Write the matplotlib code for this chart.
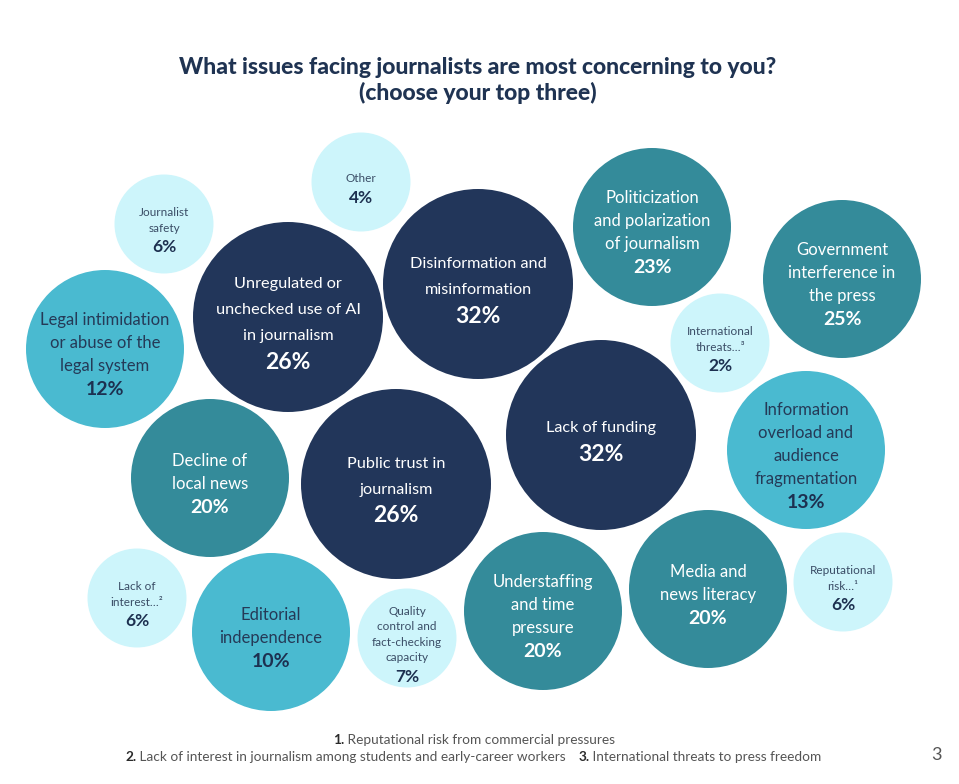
import matplotlib.pyplot as plt
from matplotlib.patches import Circle

plt.rcParams["font.family"] = ["Lato", "DejaVu Sans"]

# Survey answers (share of respondents, %)
labels = [
    "Journalist\nsafety",
    "Other",
    "Unregulated or\nunchecked use of AI\nin journalism",
    "Disinformation and\nmisinformation",
    "Politicization\nand polarization\nof journalism",
    "Government\ninterference in\nthe press",
    "Legal intimidation\nor abuse of the\nlegal system",
    "International\nthreats\u2026\u00b3",
    "Lack of funding",
    "Information\noverload and\naudience\nfragmentation",
    "Decline of\nlocal news",
    "Public trust in\njournalism",
    "Lack of\ninterest\u2026\u00b2",
    "Editorial\nindependence",
    "Quality\ncontrol and\nfact-checking\ncapacity",
    "Understaffing\nand time\npressure",
    "Media and\nnews literacy",
    "Reputational\nrisk\u2026\u00b9",
]
values = [6, 4, 26, 32, 23, 25, 12, 2, 32, 13, 20, 26, 6, 10, 7, 20, 20, 6]

# bubble layout (pixel centres on the page)
centre_x = [164, 361, 288, 478, 652, 842, 105, 720, 601, 806, 210, 396, 137, 271, 407, 543, 708, 843]
centre_y = [224, 182, 317, 284, 227, 279, 349, 343, 435, 450, 478, 484, 598, 632, 638, 611, 589, 582]

footnotes = [
    [("1.", "Reputational risk from commercial pressures")],
    [("2.", "Lack of interest in journalism among students and early-career workers"),
     ("3.", "International threats to press freedom")],
]

NAVY = "#22365a"
TEAL = "#348b9a"
LIGHT = "#4abad0"
PALE = "#cdf5fb"
DARK_TEXT = "#253a57"


def style_for(v):
    # radius, label size, pct size, line gap, pct gap, fill, label colour, pct colour
    if v >= 26:
        return 95, 11.7, 16.5, 26, 26, NAVY, "white", "white"
    if v >= 20:
        return 79, 12, 14, 23, 23.5, TEAL, "white", "white"
    if v >= 10:
        return 79, 12, 14, 23, 23.5, LIGHT, DARK_TEXT, "#1d3050"
    return 49.5, 8.5, 12.5, 15.5, 19, PALE, "#3a4d66", "#1d3050"


fig = plt.figure(figsize=(9.59, 7.84), dpi=100)
ax = fig.add_axes([0, 0, 1, 1])
ax.set_xlim(0, 959)
ax.set_ylim(784, 0)
ax.set_aspect("equal")
ax.axis("off")

for lab, v, cx, cy in zip(labels, values, centre_x, centre_y):
    r, lfs, pfs, gap, pgap, fill, lcol, pcol = style_for(v)
    ax.add_patch(Circle((cx, cy), r, facecolor=fill, edgecolor="none"))
    lines = lab.split("\n")
    span = (len(lines) - 1) * gap + pgap
    y0 = cy + 6 - span / 2
    for i, line in enumerate(lines):
        ax.text(cx, y0 + i * gap, line, ha="center", va="center", fontsize=lfs,
                color=lcol, fontweight="normal")
    ax.text(cx, y0 + (len(lines) - 1) * gap + pgap, f"{v}%", ha="center", va="center",
            fontsize=pfs, color=pcol, fontweight="bold")

ax.text(478, 67, "What issues facing journalists are most concerning to you?",
        ha="center", va="center", fontsize=16.5, fontweight="black", color="#1f3352")
ax.text(478, 93, "(choose your top three)",
        ha="center", va="center", fontsize=16.5, fontweight="black", color="#1f3352")

# footnotes, built piece by piece so the numbers can be bold
starts = [(333, 740), (125, 757)]
for (sx, sy), row in zip(starts, footnotes):
    prev = ax.text(sx, sy, row[0][0], ha="left", va="center", fontsize=9.8,
                   fontweight="bold", color="#2a2a2a")
    for j, (num, txt) in enumerate(row):
        if j > 0:
            prev = ax.annotate(num, xy=(1, 0.5), xycoords=prev, xytext=(9, 0),
                               textcoords="offset points", ha="left", va="center",
                               fontsize=9.8, fontweight="bold", color="#2a2a2a")
        prev = ax.annotate(" " + txt, xy=(1, 0.5), xycoords=prev, ha="left", va="center",
                           fontsize=9.8, color="#555555")

ax.text(936, 755, "3", ha="center", va="center", fontsize=13, color="#555555")

fig.savefig("out.png", dpi=100)
